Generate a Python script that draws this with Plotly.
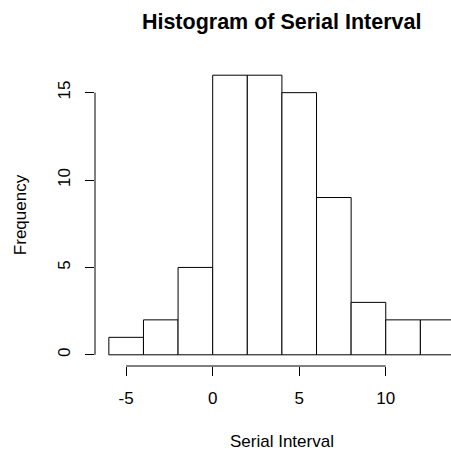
import plotly.graph_objects as go

bin_edges = [-6, -4, -2, 0, 2, 4, 6, 8, 10, 12, 14]
counts = [1, 2, 5, 16, 16, 15, 9, 3, 2, 2]
x_ticks = [-5, 0, 5, 10]
x_tick_labels = ["-5", "0", "5", "10"]
y_ticks = [0, 5, 10, 15]
y_tick_labels = ["0", "5", "10", "15"]

centers = [(a + b) / 2 for a, b in zip(bin_edges[:-1], bin_edges[1:])]
widths = [b - a for a, b in zip(bin_edges[:-1], bin_edges[1:])]

FONT = "Liberation Sans, Arial, sans-serif"

fig = go.Figure()
fig.add_trace(go.Bar(
    x=centers, y=counts, width=widths,
    marker=dict(color="white", line=dict(color="black", width=1)),
    showlegend=False, hoverinfo="skip",
))

# R-style axis lines spanning only the tick range
fig.add_shape(type="line", xref="x", yref="paper",
              x0=x_ticks[0], x1=x_ticks[-1], y0=0, y1=0,
              line=dict(color="black", width=1))
fig.add_shape(type="line", xref="paper", yref="y",
              x0=0, x1=0, y0=y_ticks[0], y1=y_ticks[-1],
              line=dict(color="black", width=1))

# x-axis title placed like R's mtext line 3
fig.add_annotation(text="Serial Interval", xref="paper", yref="paper",
                   x=(281.7 - 95) / 356, y=-(441 - 366) / 302,
                   xanchor="center", yanchor="middle",
                   showarrow=False, font=dict(size=17, family=FONT, color="black"))

fig.update_layout(
    width=451, height=450,
    margin=dict(l=95, r=0, t=64, b=84, autoexpand=False),
    plot_bgcolor="white", paper_bgcolor="white",
    font=dict(family=FONT, size=17, color="black"),
    bargap=0,
    title=dict(text="<b>Histogram of Serial Interval</b>",
               x=281.7 / 451, xanchor="center", y=1 - 21 / 450, yanchor="middle",
               font=dict(size=21.5, family=FONT, color="black")),
    xaxis=dict(range=[-6.8, 13.77], tickvals=x_ticks, ticktext=x_tick_labels,
               ticks="outside", automargin=False,
               ticklen=9, tickcolor="black", showline=False, showgrid=False,
               zeroline=False, ticklabelstandoff=8),
    yaxis=dict(range=[-0.64, 16.64], tickvals=y_ticks, ticktext=y_tick_labels,
               ticks="outside", automargin=False,
               ticklen=9, tickcolor="black", showline=False, showgrid=False,
               zeroline=False, tickangle=-90, ticklabelstandoff=8,
               title=dict(text="Frequency", standoff=24,
                          font=dict(size=17, family=FONT, color="black"))),
)

fig.write_html("out.html",
               config={"displayModeBar": False, "staticPlot": True},
               post_script="document.body.style.margin='0';document.body.style.overflow='hidden';")
